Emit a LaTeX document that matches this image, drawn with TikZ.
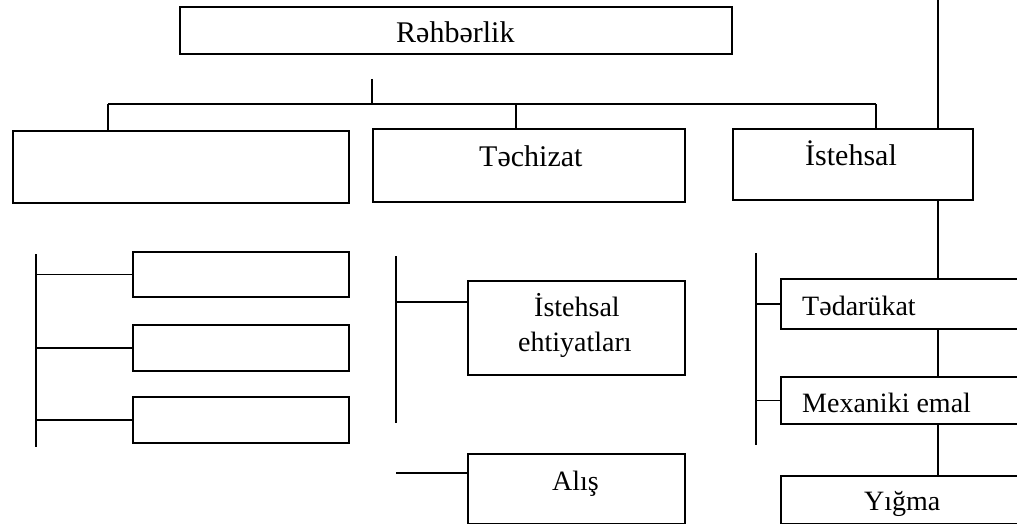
\documentclass[tikz,border=0pt]{standalone}
\usepackage{fontspec}
\setmainfont{Liberation Serif}
\tikzset{
  box/.style={draw, line width=1.8pt, inner sep=0pt, anchor=north west},
  ln/.style={line width=1.5pt},
  lblw/.style={font=\fontsize{28}{34}\selectfont, inner sep=0pt, anchor=base west},
  lbltop/.style={font=\fontsize{30}{36}\selectfont, inner sep=0pt, anchor=base west},
}
\begin{document}
\begin{tikzpicture}[x=1pt,y=-1pt]
\useasboundingbox (0,0) rectangle (1017,524);
% top level
\node[box, minimum width=552pt, minimum height=47pt] (rah) at (179,6) {};
\node[lbltop] (raht) at (396,43) {Rəhbərlik};
\node[box, minimum width=336pt, minimum height=72pt] (lb) at (12,130) {};
\node[box, minimum width=312pt, minimum height=73pt] (teh) at (372,128) {};
\node[lbltop] (teht) at (479,167) {Təchizat};
\node[box, minimum width=240pt, minimum height=71pt] (ist) at (732,128) {};
\node[lbltop] (istt) at (805,165) {İstehsal};
% left column
\node[box, minimum width=216pt, minimum height=45pt] (l1) at (132,251) {};
\node[box, minimum width=216pt, minimum height=46pt] (l2) at (132,324) {};
\node[box, minimum width=216pt, minimum height=46pt] (l3) at (132,396) {};
% middle column
\node[box, minimum width=217pt, minimum height=94pt] (eh) at (467,280) {};
\node[lblw] (eht1) at (534,316) {İstehsal};
\node[lblw] (eht2) at (518,351) {ehtiyatları};
\node[box, minimum width=217pt, minimum height=70pt] (al) at (467,453) {};
\node[lblw] (alt) at (552,490) {Alış};
% right column
\node[box, minimum width=250pt, minimum height=50pt] (ted) at (780,278) {};
\node[lblw] (tedt) at (802,315) {Tədarükat};
\node[box, minimum width=250pt, minimum height=47pt] (mex) at (780,376) {};
\node[lblw] (mext) at (802,412) {Mexaniki emal};
\node[box, minimum width=250pt, minimum height=48pt] (yig) at (780,475) {};
\node[lblw] (yigt) at (864,510) {Yığma};
% top tree
\coordinate (r0) at (372,79);
\coordinate (r1) at (372,104);
\coordinate (bL) at (108,104);
\coordinate (bM) at (516,104);
\coordinate (bR) at (876,104);
\draw[ln] (r0) -- (r1);
\draw[ln] (bL) -- (bR);
\draw[ln] (bL) -- (bL |- lb.north);
\draw[ln] (bM) -- (bM |- teh.north);
\draw[ln] (bR) -- (bR |- ist.north);
% right spine
\coordinate (v0) at (938,0);
\coordinate (v1) at (938,530);
\draw[ln] (v0) -- (v0 |- ist.north);
\draw[ln] (v0 |- ist.south) -- (v0 |- ted.north);
\draw[ln] (v0 |- ted.south) -- (v0 |- mex.north);
\draw[ln] (v0 |- mex.south) -- (v0 |- yig.north);
\draw[ln] (v0 |- yig.south) -- (v1);
% left bracket
\coordinate (lv0) at (36,254);
\coordinate (lv1) at (36,447);
\draw[ln] (lv0) -- (lv1);
\draw[ln] (lv0 |- l1.west) -- (l1.west);
\draw[ln] (lv0 |- l2.west) -- (l2.west);
\draw[ln] (lv0 |- l3.west) -- (l3.west);
% middle bracket
\coordinate (mv0) at (396,256);
\coordinate (mv1) at (396,423);
\coordinate (m1) at (396,302);
\coordinate (m2) at (396,473);
\draw[ln] (mv0) -- (mv1);
\draw[ln] (m1) -- (m1 -| eh.west);
\draw[ln] (m2) -- (m2 -| al.west);
% right bracket
\coordinate (rv0) at (756,253);
\coordinate (rv1) at (756,445);
\draw[ln] (rv0) -- (rv1);
\draw[ln] (rv0 |- ted.west) -- (ted.west);
\draw[ln] (rv0 |- mex.west) -- (mex.west);
\end{tikzpicture}
\end{document}
